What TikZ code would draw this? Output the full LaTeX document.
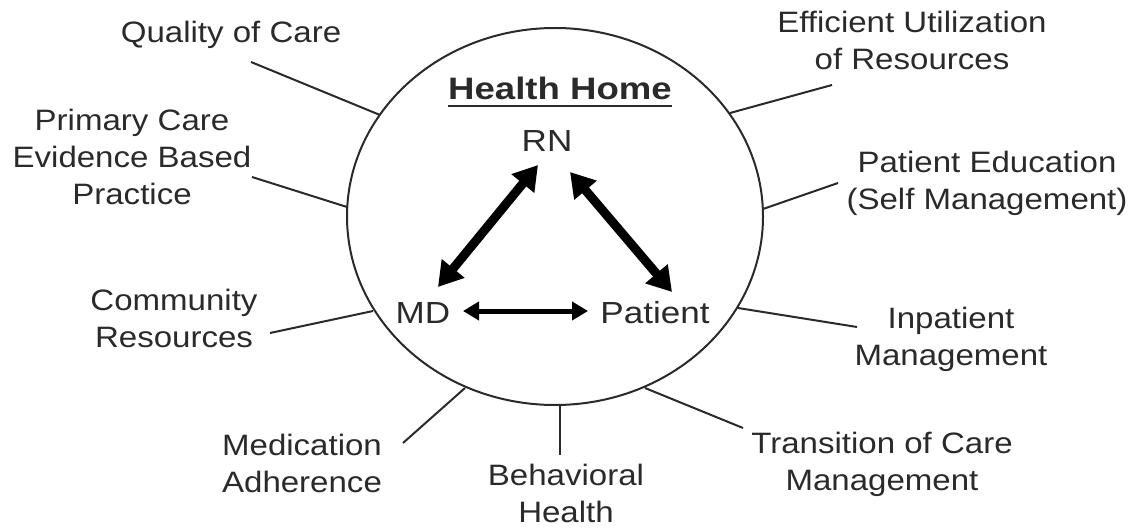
\documentclass[tikz,border=0pt]{standalone}
\usepackage{fontspec}
\setmainfont{Liberation Sans}
\usetikzlibrary{arrows.meta,shapes.geometric}
\definecolor{txt}{HTML}{2A2A2A}
\tikzset{
  lbl/.style={anchor=base, align=center, inner sep=0pt, text=txt, xscale=1.12,
    font=\fontsize{29.5}{37}\selectfont},
  inner/.style={anchor=base, inner sep=0pt, text=txt, xscale=1.15,
    font=\fontsize{30.5}{37}\selectfont},
  ttl/.style={anchor=base, inner sep=0pt, text=txt, xscale=1.18,
    font=\fontsize{31}{37}\selectfont\bfseries},
  spoke/.style={line width=2pt, draw=txt},
  bigarrow/.style={line width=9pt, {Triangle[length=24pt,width=28pt]}-{Triangle[length=24pt,width=28pt]}},
  smallarrow/.style={line width=5pt, {Triangle[length=16pt,width=18pt]}-{Triangle[length=16pt,width=18pt]}}
}
\begin{document}
\begin{tikzpicture}[x=1pt,y=-1pt]
\useasboundingbox (0,0) rectangle (1137,529);
% circle
\node[draw=txt, line width=2pt, ellipse, minimum width=416pt, minimum height=377pt, inner sep=0pt] (circ) at (555,216.5) {};
% title and team
\node[ttl] (hh) at (560,100) {Health Home};
\draw[line width=2pt, draw=txt] ([yshift=-6pt]hh.base west) -- ([yshift=-6pt]hh.base east);
\node[inner] (rn) at (547,152) {RN};
\node[inner] (md) at (423,323) {MD};
\node[inner] (pt) at (655,323) {Patient};
% arrow tips
\coordinate (rnA) at (538,165);
\coordinate (mdA) at (438,287);
\coordinate (rnB) at (570,172);
\coordinate (ptA) at (672,292);
\coordinate (mdB) at (463,311);
\coordinate (ptB) at (588,311);
\draw[bigarrow] (rnA) -- (mdA);
\draw[bigarrow] (rnB) -- (ptA);
\draw[smallarrow] (mdB) -- (ptB);
% outer labels (anchor = baseline of last line)
\node[lbl] (qc) at (231,43) {Quality of Care};
\node[lbl] (pc) at (132,205) {Primary Care\\Evidence Based\\Practice};
\node[lbl] (cr) at (174,347) {Community\\Resources};
\node[lbl] (ma) at (302,492) {Medication\\Adherence};
\node[lbl] (bh) at (566,522) {Behavioral\\Health};
\node[lbl] (tc) at (882,490) {Transition of Care\\Management};
\node[lbl] (im) at (951,365) {Inpatient\\Management};
\node[lbl] (pe) at (987,210) {Patient Education\\(Self Management)};
\node[lbl] (eu) at (912,70) {Efficient Utilization\\of Resources};
% spoke end points
\coordinate (c1) at (380,115); \coordinate (o1) at (251,62);
\coordinate (c2) at (347,207); \coordinate (o2) at (252,177);
\coordinate (c3) at (373,311); \coordinate (o3) at (270,333);
\coordinate (c4) at (465,388); \coordinate (o4) at (403,443);
\coordinate (c5) at (560,405); \coordinate (o5) at (560,455);
\coordinate (c6) at (645,388); \coordinate (o6) at (743,428);
\coordinate (c7) at (738,308); \coordinate (o7) at (857,327);
\coordinate (c8) at (763,209); \coordinate (o8) at (838,183);
\coordinate (c9) at (730,113); \coordinate (o9) at (832,85);
\foreach \i in {1,...,9} { \draw[spoke] (c\i) -- (o\i); }
\end{tikzpicture}
\end{document}
